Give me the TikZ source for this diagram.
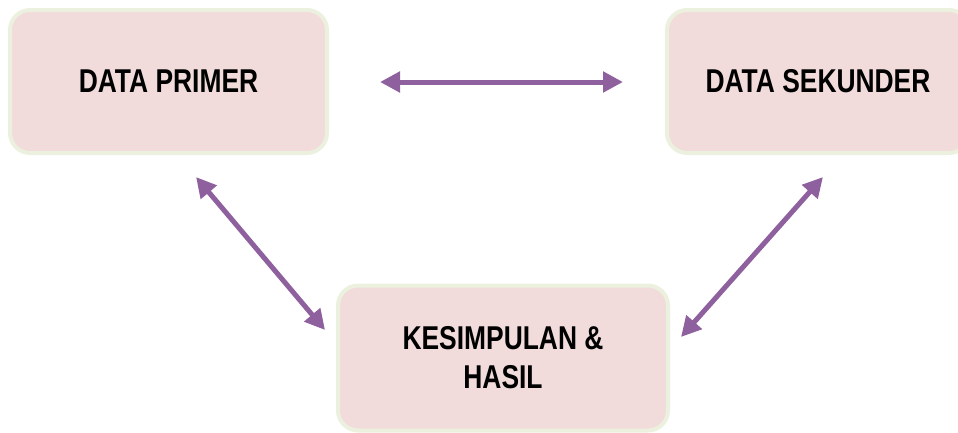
\documentclass[tikz,border=0pt]{standalone}
\usepackage{fontspec}
\setmainfont{Liberation Sans}[FakeStretch=0.8]
\usetikzlibrary{arrows.meta}
\definecolor{boxfill}{RGB}{242,220,219}
\definecolor{boxline}{RGB}{235,241,222}
\definecolor{arrowc}{RGB}{142,96,158}
\tikzset{
  box/.style={draw=boxline, line width=4pt, fill=boxfill, rounded corners=20pt,
    minimum height=143pt, align=center, inner sep=0pt,
    font=\fontsize{33}{39}\selectfont\bfseries},
  link/.style={draw=arrowc, line width=5pt,
    {Triangle[length=20pt,width=20pt]}-{Triangle[length=20pt,width=20pt]}}
}
\begin{document}
\begin{tikzpicture}[x=1pt,y=-1pt]
\useasboundingbox (0,0) rectangle (958,432);
\node[box, minimum width=317pt] (p) at (168.5,81.5) {DATA PRIMER};
\node[box, minimum width=302pt] (s) at (818,81.5) {DATA SEKUNDER};
\node[box, minimum width=330pt, minimum height=145pt] (k) at (503,358) {KESIMPULAN \&\\HASIL};
\coordinate (h1) at (380,82);
\coordinate (h2) at (623,82);
\coordinate (l1) at (196,177);
\coordinate (l2) at (325,330);
\coordinate (r1) at (823,177);
\coordinate (r2) at (681,337);
\draw[link] (h1) -- (h2);
\draw[link] (l1) -- (l2);
\draw[link] (r1) -- (r2);
\end{tikzpicture}
\end{document}
